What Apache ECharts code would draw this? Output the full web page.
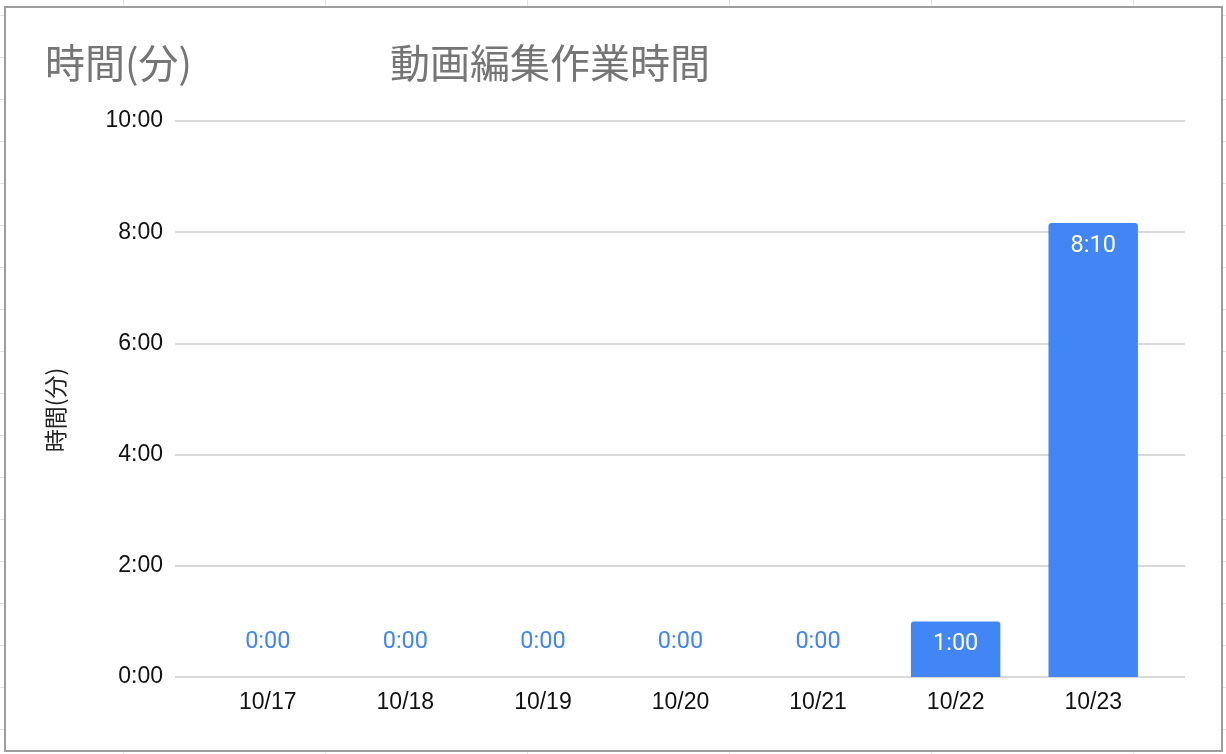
<!DOCTYPE html>
<html>
<head>
<meta charset="utf-8">
<script src="https://cdn.jsdelivr.net/npm/echarts@6/dist/echarts.min.js"></script>
<style>
  html, body {
    margin: 0;
    width: 1226px;
    height: 754px;
    overflow: hidden;
    background-color: #fff;
    /* シートの罫線 */
    background-image: linear-gradient(to right, #e3e3e3 1px, transparent 1px),
      linear-gradient(to bottom, #e3e3e3 1px, transparent 1px);
    background-size: 202px 42px;
    background-position: 123px 15px;
  }
  #frame {
    position: absolute;
    left: 4px;
    top: 6px;
    width: 1219px;
    height: 746px;
    box-sizing: border-box;
    border: 2px solid #9e9e9e;
    background: #fff;
  }
  #box {
    position: absolute;
    left: 0;
    top: 0;
    width: 1226px;
    height: 754px;
  }
</style>
</head>
<body>
<div id="frame"></div>
<div id="box"></div>
<script>
// データ
const dates = ["10/17", "10/18", "10/19", "10/20", "10/21", "10/22", "10/23"];
const minutes = [0, 0, 0, 0, 0, 60, 490]; // 8:10 = 490
const yMax = 600;
const yStep = 120;

const blue = "#4285f4";

function fmt(v) {
  const h = Math.floor(v / 60);
  const m = Math.round(v % 60);
  return h + ":" + (m < 10 ? "0" + m : m);
}

var myChart = echarts.init(document.getElementById("box"));

myChart.setOption({
  animation: false,
  title: [
    {
      text: "時間(分)",
      left: 45,
      top: 43,
      padding: 0,
      textStyle: {
        fontFamily: "Noto Sans CJK JP",
        fontSize: 40,
        fontWeight: "normal",
        color: "#757575",
      },
    },
    {
      text: "動画編集作業時間",
      left: 390,
      top: 43,
      padding: 0,
      textStyle: {
        fontFamily: "Noto Sans CJK JP",
        fontSize: 40,
        fontWeight: "normal",
        color: "#757575",
      },
    },
  ],
  grid: [
    // 罫線と目盛り用
    { left: 175, right: 41, top: 121, bottom: 77 },
    // 棒グラフ用 (内側に余白あり)
    { left: 199, right: 64, top: 121, bottom: 77 },
  ],
  xAxis: [
    { type: "value", gridIndex: 0, show: false, min: 0, max: 1 },
    {
      type: "category",
      gridIndex: 1,
      data: dates,
      axisLine: { show: false },
      axisTick: { show: false },
      axisLabel: {
        margin: 14,
        color: "#111",
        fontFamily: "Liberation Sans",
        fontSize: 23,
      },
    },
  ],
  yAxis: [
    {
      type: "value",
      gridIndex: 0,
      min: 0,
      max: yMax,
      interval: yStep,
      name: "時間(分)",
      nameLocation: "middle",
      nameGap: 108,
      nameTextStyle: {
        fontFamily: "Noto Sans CJK JP",
        fontSize: 23,
        color: "#222",
        padding: [0, 22, 0, 0],
      },
      axisLine: { show: false },
      axisTick: { show: false },
      axisLabel: {
        margin: 12,
        formatter: fmt,
        color: "#111",
        fontFamily: "Liberation Sans",
        fontSize: 23,
      },
      splitLine: { lineStyle: { color: "#cccccc", width: 1.5 } },
    },
    {
      type: "value",
      gridIndex: 1,
      min: 0,
      max: yMax,
      interval: yStep,
      show: false,
      splitLine: { show: false },
    },
  ],
  series: [
    {
      type: "bar",
      xAxisIndex: 1,
      yAxisIndex: 1,
      barWidth: "65%",
      itemStyle: { color: blue, borderRadius: [3, 3, 0, 0] },
      data: minutes.map(function (v) {
        return {
          value: v,
          label: {
            show: true,
            formatter: function (p) {
              return fmt(p.value);
            },
            position: v === 0 ? "top" : "insideTop",
            distance: v === 0 ? 23 : 11,
            color: v === 0 ? blue : "#fff",
            fontFamily: "Roboto",
            fontSize: 23.5,
          },
        };
      }),
    },
  ],
});
</script>
</body>
</html>
